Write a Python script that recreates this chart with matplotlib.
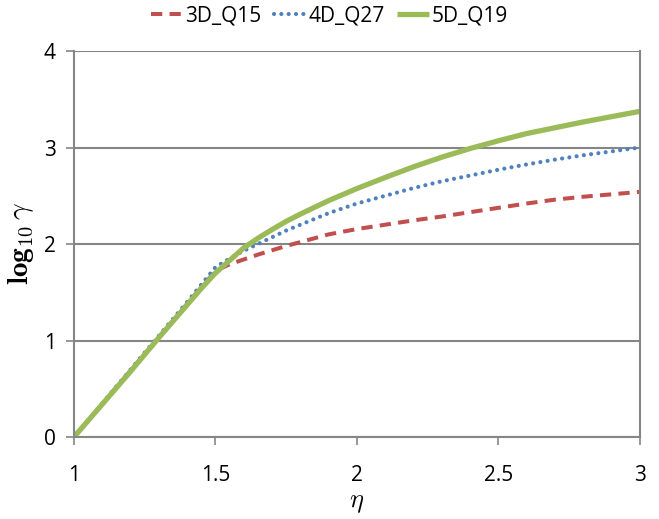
import matplotlib
matplotlib.use("Agg")
import matplotlib.pyplot as plt

eta = [1.0, 1.1, 1.2, 1.3, 1.4, 1.45, 1.5, 1.55, 1.6, 1.65, 1.7, 1.75, 1.8,
       1.9, 2.0, 2.1, 2.2, 2.3, 2.4, 2.5, 2.6, 2.7, 2.8, 2.9, 3.0]
q15_3d = [0, 0.34, 0.69, 1.03, 1.38, 1.55, 1.72, 1.79, 1.84, 1.89, 1.935,
          1.98, 2.02, 2.10, 2.155, 2.20, 2.245, 2.285, 2.33, 2.375, 2.42,
          2.46, 2.49, 2.515, 2.54]
q27_4d = [0, 0.35, 0.70, 1.05, 1.40, 1.58, 1.76, 1.85, 1.93, 2.00, 2.07,
          2.14, 2.20, 2.32, 2.42, 2.50, 2.58, 2.65, 2.71, 2.77, 2.825, 2.875,
          2.92, 2.96, 3.0]
q19_5d = [0, 0.34, 0.68, 1.03, 1.37, 1.54, 1.70, 1.83, 1.96, 2.06, 2.15,
          2.235, 2.31, 2.45, 2.575, 2.69, 2.80, 2.90, 2.99, 3.07, 3.145,
          3.205, 3.265, 3.32, 3.375]
labels = ["3D_Q15", "4D_Q27", "5D_Q19"]

plt.rcParams['font.family'] = ['Open Sans', 'DejaVu Sans']
plt.rcParams['mathtext.fontset'] = 'cm'
grey = "#868686"

fig = plt.figure(figsize=(6.59, 5.19), dpi=100)
ax = fig.add_axes([0.1123, 0.158, 0.8588, 0.7437])

ax.plot(eta, q15_3d, color="#C0504D", lw=2.9, dashes=(2.8, 1.8),
        label=labels[0])
ax.plot(eta, q27_4d, color="#4F81BD", lw=3.0, linestyle=(0, (0.01, 1.75)),
        dash_capstyle="round", label=labels[1])
ax.plot(eta, q19_5d, color="#9BBB59", lw=3.8, solid_capstyle="butt",
        label=labels[2])

ax.set_xlim(1, 3)
ax.set_ylim(0, 4)
ax.set_xticks([1, 1.5, 2, 2.5, 3])
ax.set_xticklabels(["1", "1.5", "2", "2.5", "3"])
ax.set_yticks([0, 1, 2, 3, 4])
ax.yaxis.grid(True, color=grey, lw=1.5)
ax.set_axisbelow(True)
for s in ax.spines.values():
    s.set_color(grey)
    s.set_linewidth(1.5)
ax.spines['top'].set_visible(False)
ax.xaxis.set_tick_params(color=grey, length=6, width=1.2, labelsize=15)
ax.yaxis.set_tick_params(color=grey, length=6, width=1.2, labelsize=15)
ax.xaxis.set_tick_params(pad=14)
ax.yaxis.set_tick_params(pad=7)

ax.set_xlabel(r"$\eta$", fontsize=19, labelpad=3)
ax.set_ylabel(r"$\mathbf{log_{10}}\,\gamma$", fontsize=21, labelpad=6)

fig.legend(loc="upper center", bbox_to_anchor=(0.5, 1.025), ncol=3,
           frameon=False, fontsize=15, handlelength=1.5, handletextpad=0.15,
           columnspacing=0.6)

fig.savefig("out.png", dpi=100)
